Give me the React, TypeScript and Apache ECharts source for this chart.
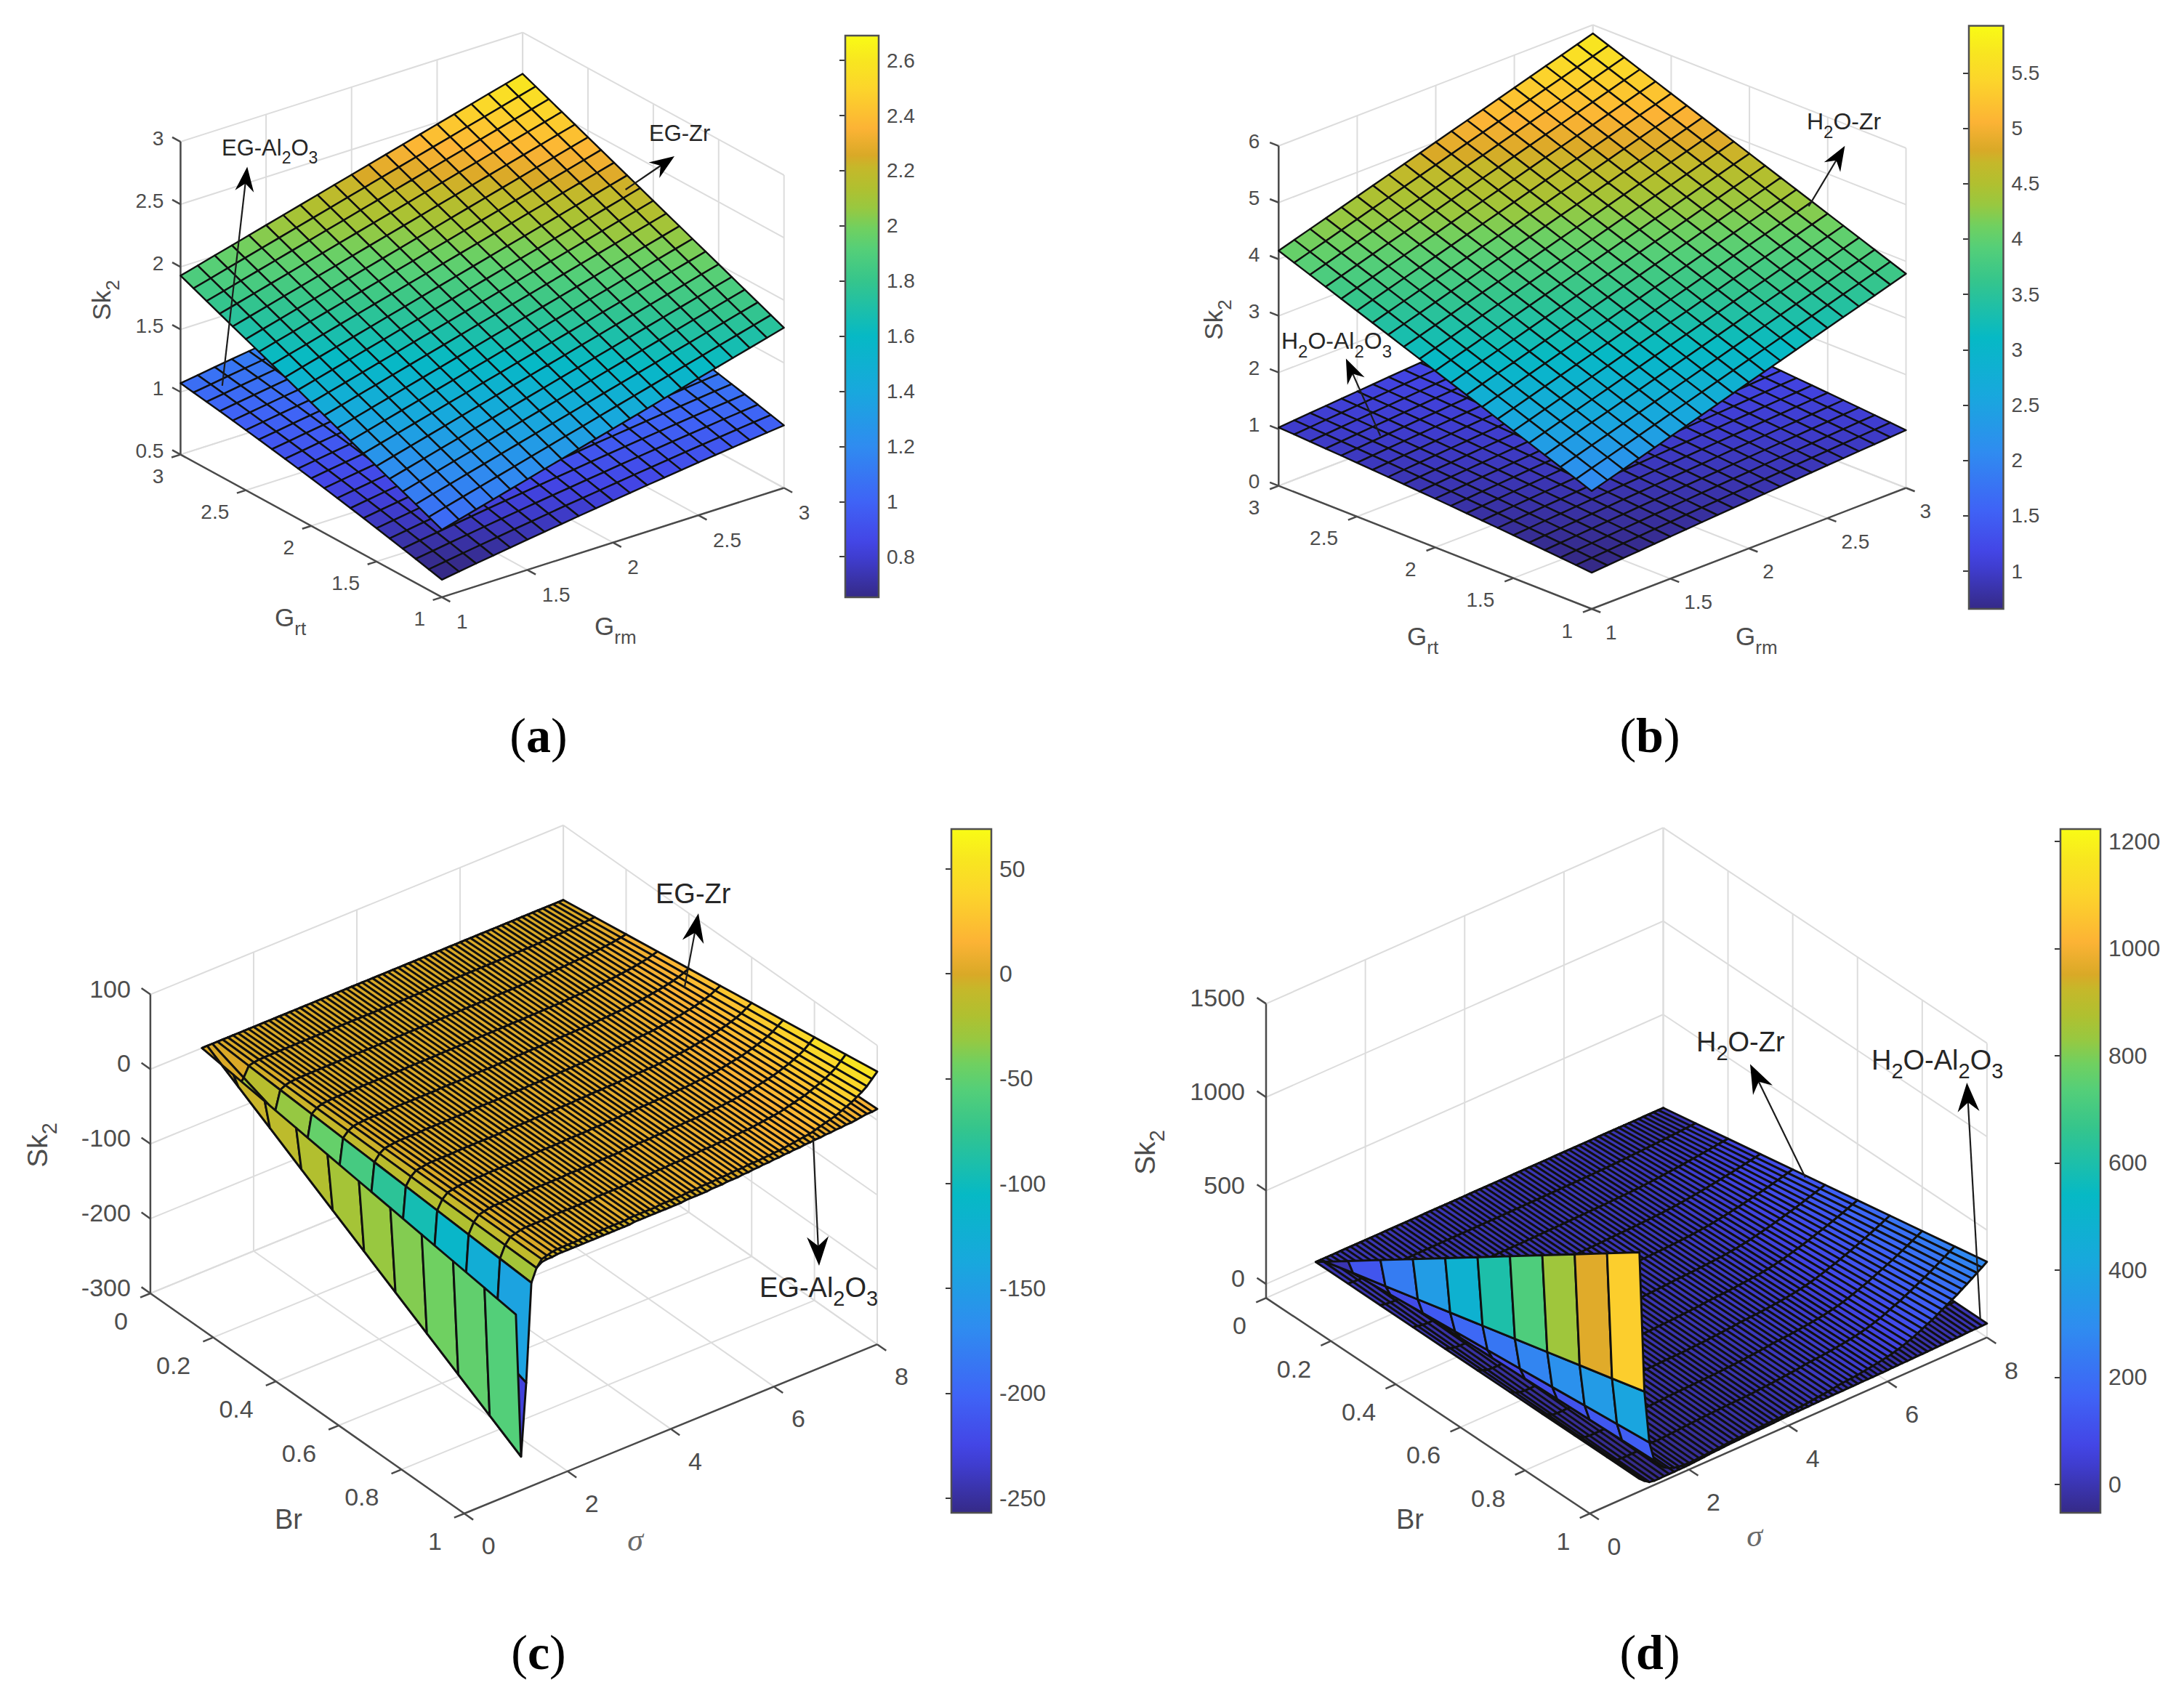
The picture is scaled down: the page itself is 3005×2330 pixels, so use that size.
import React, { useEffect, useRef } from "react";
import * as echarts from "echarts";

// ---------- values ----------
const gridAxis = [1,1.1,1.2,1.3,1.4,1.5,1.6,1.7,1.8,1.9,2,2.1,2.2,2.3,2.4,2.5,2.6,2.7,2.8,2.9,3];
const aTopAlongGrm = [1.04,1.077,1.114,1.151,1.188,1.225,1.262,1.299,1.336,1.373,1.41,1.447,1.484,1.521,1.558,1.595,1.632,1.669,1.706,1.743,1.78];
const aTopRiseGrt = [0,.0445,.089,.1335,.178,.2225,.267,.3115,.356,.4005,.445,.4895,.534,.5785,.623,.6675,.712,.7565,.801,.8455,.89];
const aLowAlongGrm = [.64,.661,.682,.702,.722,.742,.761,.78,.799,.817,.835,.853,.871,.888,.905,.922,.938,.954,.97,.985,1.0];
const aLowRiseGrt = [0,.026,.052,.077,.102,.126,.15,.173,.196,.218,.24,.261,.282,.302,.322,.341,.36,.378,.396,.413,.43];
const bTopAlongGrm = [2.08,2.165,2.25,2.335,2.42,2.505,2.59,2.675,2.76,2.845,2.93,3.015,3.1,3.185,3.27,3.355,3.44,3.525,3.61,3.695,3.78];
const bTopRiseGrt = [0,.1035,.207,.3105,.414,.5175,.621,.7245,.828,.9315,1.035,1.1385,1.242,1.3455,1.449,1.5525,1.656,1.7595,1.863,1.9665,2.07];
const bLowAlongGrm = [.64,.661,.682,.702,.722,.742,.762,.782,.801,.82,.839,.858,.877,.896,.914,.932,.95,.968,.985,1.003,1.02];
const bLowRiseGrt = [0,.024,.048,.071,.094,.116,.138,.159,.18,.2,.22,.239,.258,.276,.294,.311,.328,.344,.36,.375,.39];

const brAxis = [0,.1,.2,.3,.4,.5,.6,.7,.8,.9,1];
const sigmaAxis = [1,1.1,1.2,1.3,1.4,1.5,1.6,1.7,1.8,1.9,
  2,2.1,2.2,2.3,2.4,2.5,2.6,2.7,2.8,2.9,
  3,3.1,3.2,3.3,3.4,3.5,3.6,3.7,3.8,3.9,
  4,4.1,4.2,4.3,4.4,4.5,4.6,4.7,4.8,4.9,
  5,5.1,5.2,5.3,5.4,5.5,5.6,5.7,5.8,5.9,
  6,6.1,6.2,6.3,6.4,6.5,6.6,6.7,6.8,6.9,
  7,7.1,7.2,7.3,7.4,7.5,7.6,7.7,7.8,7.9,8];
const cZrAtBr1 = [-62,-255,-159,-28,-11,-2,0,2,3,3,
  3,3,3,4,4,4,4,4,4,4,
  4,4,5,5,5,5,5,5,6,6,
  6,6,6,7,7,7,8,8,8,9,
  9,9,10,10,10,11,11,11,12,12,
  13,13,14,15,16,17,18,19,21,23,
  25,27,29,32,35,38,42,46,51,58,65];
const cAlAtBr1 = [-8,-40,-30,-14,-11,-6,-5,-5,-4,-4,
  -4,-4,-4,-4,-4,-4,-4,-4,-4,-4,
  -4,-4,-4,-3,-3,-3,-3,-3,-3,-3,
  -3,-3,-3,-2,-2,-2,-2,-2,-1,-1,
  -1,0,0,0,1,1,2,2,3,3,
  4,4,5,5,6,6,7,7,8,8,
  9,9,10,10,11,11,12,13,14,14,15];
const dZrAtBr1 = [1205,448,164,55,20,-5,-20,-30,-36,-38,
  -40,-39,-37,-35,-33,-31,-29,-27,-25,-23,
  -22,-20,-19,-18,-16,-15,-14,-13,-12,-11,
  -8,-6,-4,-2,1,4,7,10,13,17,
  22,24,27,29,32,36,40,44,48,53,
  58,65,72,80,90,100,112,125,138,150,
  165,180,195,210,225,242,259,276,294,312,330];
const dAlAtBr1 = [-7,-30,-48,-53,-53,-52,-52,-52,-51,-51,
  -50,-48,-46,-44,-42,-40,-39,-37,-35,-34,
  -33,-32,-31,-30,-29,-28,-27,-26,-25,-24,
  -23,-22,-22,-21,-21,-20,-20,-19,-19,-18,
  -18,-18,-17,-17,-17,-16,-16,-16,-15,-15,
  -14,-13,-13,-12,-12,-11,-10,-10,-9,-9,
  -8,-7,-6,-6,-5,-4,-3,-2,-2,-1,0];

const grmTicks = [1,1.5,2,2.5,3];
const grtTicks = [1,1.5,2,2.5,3];
const aZTicks = [0.5,1,1.5,2,2.5,3];
const bZTicks = [0,1,2,3,4,5,6];
const sigmaTicks = [0,2,4,6,8];
const brTicks = [0,0.2,0.4,0.6,0.8,1];
const cZTicks = [-300,-200,-100,0,100];
const dZTicks = [0,500,1000,1500];
const aBarTicks = [0.8,1,1.2,1.4,1.6,1.8,2,2.2,2.4,2.6];
const bBarTicks = [1,1.5,2,2.5,3,3.5,4,4.5,5,5.5];
const cBarTicks = [-250,-200,-150,-100,-50,0,50];
const dBarTicks = [0,200,400,600,800,1000,1200];

// ---------- styles and layout ----------
const SANS = "Liberation Sans";
const SERIF = "Liberation Serif";
const GREY = "#4d4d4d";
const STOPS: [number, string][] = [
  [0,"#352a87"],[0.07,"#3f3dcf"],[0.1,"#4346e6"],[0.17,"#3f63f6"],[0.27,"#2f8cf0"],[0.367,"#18a8dd"],
  [0.465,"#06b9c5"],[0.563,"#35c58c"],[0.62,"#55cf78"],[0.657,"#70d060"],[0.693,"#98c840"],[0.728,"#b0c030"],
  [0.765,"#c5b82a"],[0.787,"#d9a927"],[0.835,"#fcb335"],[0.906,"#fcd52b"],[0.955,"#f8e620"],[1,"#f9fb15"],
];
const hex = (s: string) => [1,3,5].map((k) => parseInt(s.slice(k,k+2),16));
function parula(t: number) {
  const v = Math.max(0, Math.min(1, t));
  for (let k = 1; k < STOPS.length; k++) {
    if (v <= STOPS[k][0]) {
      const a = STOPS[k-1], b = STOPS[k], f = (v-a[0])/(b[0]-a[0]);
      const ca = hex(a[1]), cb = hex(b[1]);
      return `rgb(${ca.map((c,m)=>Math.round(c+(cb[m]-c)*f)).join(",")})`;
    }
  }
  return STOPS[STOPS.length-1][1];
}

function subText(parts: string[], F: number, fill = GREY, family = SANS) {
  const LH = Math.round(F*1.3);
  return {
    text: parts.map((p,i)=> (i%2===0 ? `{n|${p}}` : `{s|${p}}`)).join(""),
    rich: {
      n: { fontSize: F, fontFamily: family, fill, verticalAlign: "top", lineHeight: LH },
      s: { fontSize: Math.round(F*0.75), fontFamily: family, fill, verticalAlign: "bottom", lineHeight: LH },
    },
  };
}

type P = any;
const panels: P[] = [
  { left:[248.4,625.6], front:[608,821.9], right:[1078.7,671.5], zPx:430.5,
    x:[1,3], yNear:1, yFar:3, z:[0.5,3], cr:[0.653,2.69], mesh:2.4,
    xTicks:grmTicks, yTicks:grtTicks, zTicks:aZTicks, barTicks:aBarTicks, font:28, barFont:28,
    zOff:[-23,-5], yOff:[-23,30], xOff:[20,34], tick:13,
    bar:{left:1163,top:49,width:46,height:773},
    sk:[145,413], skF:35, xLab:{parts:["G","rm"],at:[818,867]}, yLab:{parts:["G","rt"],at:[378,855]}, labF:35,
    notes:[
      {parts:["EG-Al","2","O","3"],at:[305,208],from:[305.8,530.9],to:[340.2,229.5]},
      {parts:["EG-Zr"],at:[893,188],from:[860.6,261],to:[928,215]},
    ], noteF:31, head:[34,13], cap:["a",741,1012] },
  { left:[1759.3,668.6], front:[2190.1,838], right:[2622.5,671.5], zPx:467.8,
    x:[1,3], yNear:1, yFar:3, z:[0,6], cr:[0.66,5.925], mesh:2.4,
    xTicks:grmTicks, yTicks:grtTicks, zTicks:bZTicks, barTicks:bBarTicks, font:28, barFont:28,
    zOff:[-26,-6], yOff:[-26,30], xOff:[19,32], tick:13,
    bar:{left:2709,top:35.5,width:47.5,height:802.5},
    sk:[1675,440], skF:35, xLab:{parts:["G","rm"],at:[2388,881]}, yLab:{parts:["G","rt"],at:[1936,881]}, labF:35,
    notes:[
      {parts:["H","2","O-Zr"],at:[2486,172],from:[2488.6,284],to:[2538.4,200.8]},
      {parts:["H","2","O-Al","2","O","3"],at:[1763,474],from:[1899.3,599.7],to:[1851.9,493.5]},
    ], noteF:32, head:[34,13], cap:["b",2270,1012] },
  { left:[206.9,1780], front:[638.8,2083], right:[1207,1850.2], zPx:411.4,
    x:[0,8], yNear:1, yFar:0, z:[-300,100], cr:[-257,69], mesh:2.9,
    xTicks:sigmaTicks, yTicks:brTicks, zTicks:cZTicks, barTicks:cBarTicks, font:34, barFont:32,
    zOff:[-27,-8], yOff:[-31,38], xOff:[24,44], tick:15,
    bar:{left:1309,top:1141,width:55,height:941},
    sk:[57,1576], skF:39, xLab:{sigma:true,at:[874,2119]}, yLab:{parts:["Br"],at:[378,2096]}, labF:38,
    notes:[
      {parts:["EG-Zr"],at:[902,1235],from:[941.8,1359],to:[961,1257]},
      {parts:["EG-Al","2","O","3"],at:[1045,1777],from:[1118.6,1563],to:[1127,1742]},
    ], noteF:38, head:[40,15], cap:["c",741,2274] },
  { left:[1742,1786.4], front:[2187.4,2083], right:[2733.9,1840.7], zPx:405,
    x:[0,8], yNear:1, yFar:0, z:[-75,1500], cr:[-53,1223], mesh:2.9,
    xTicks:sigmaTicks, yTicks:brTicks, zTicks:dZTicks, barTicks:dBarTicks, font:34, barFont:32,
    zOff:[-29,-8], yOff:[-27,38], xOff:[24,45], tick:15,
    bar:{left:2835,top:1141,width:55,height:941},
    sk:[1581,1586], skF:39, xLab:{sigma:true,at:[2414,2113]}, yLab:{parts:["Br"],at:[1921,2096]}, labF:38,
    notes:[
      {parts:["H","2","O-Zr"],at:[2334,1439],from:[2484,1620.6],to:[2408,1464.4]},
      {parts:["H","2","O-Al","2","O","3"],at:[2575,1464],from:[2724.7,1815],to:[2706.3,1490]},
    ], noteF:38, head:[40,15], cap:["d",2270,2274] },
];

function project(p: P, x: number, y: number, z: number): [number, number] {
  const tx = (x-p.x[0])/(p.x[1]-p.x[0]);
  const ty = (y-p.yNear)/(p.yFar-p.yNear);
  const tz = (z-p.z[0])/(p.z[1]-p.z[0]);
  return [
    p.front[0]+tx*(p.right[0]-p.front[0])+ty*(p.left[0]-p.front[0]),
    p.front[1]+tx*(p.right[1]-p.front[1])+ty*(p.left[1]-p.front[1])-tz*p.zPx,
  ];
}

// Tables the mesh needs, built from the readings above.
const additive = (along: number[], rise: number[]) => rise.map((r)=>along.map((v)=>v+r));
const scaled = (atBr1: number[]) => brAxis.map((b)=>atBr1.map((v)=>b*v));

const surfaces = [
  { panel:0, xs:gridAxis, ys:gridAxis, table:additive(aLowAlongGrm,aLowRiseGrt) },
  { panel:0, xs:gridAxis, ys:gridAxis, table:additive(aTopAlongGrm,aTopRiseGrt) },
  { panel:1, xs:gridAxis, ys:gridAxis, table:additive(bLowAlongGrm,bLowRiseGrt) },
  { panel:1, xs:gridAxis, ys:gridAxis, table:additive(bTopAlongGrm,bTopRiseGrt) },
  { panel:2, xs:sigmaAxis, ys:brAxis, table:scaled(cAlAtBr1) },
  { panel:2, xs:sigmaAxis, ys:brAxis, table:scaled(cZrAtBr1) },
  { panel:3, xs:sigmaAxis, ys:brAxis, table:scaled(dAlAtBr1) },
  { panel:3, xs:sigmaAxis, ys:brAxis, table:scaled(dZrAtBr1) },
];

function surfaceSeries(s: any, idx: number) {
  const p = panels[s.panel];
  const data: number[][] = [];
  const jOrder = s.ys.slice(0,-1).map((_: number,j: number)=>j);
  if (p.yFar > p.yNear) jOrder.reverse();
  for (let i = s.xs.length-2; i >= 0; i--) {
    for (const j of jOrder) {
      data.push([s.xs[i],s.xs[i+1],s.ys[j],s.ys[j+1],s.table[j][i],s.table[j][i+1],s.table[j+1][i+1],s.table[j+1][i]]);
    }
  }
  return {
    type:"custom", coordinateSystem:"none", silent:true, z:3+idx, progressive:0, animation:false, data,
    renderItem:(_: any, api: any) => {
      const v = (k: number) => api.value(k);
      const pts = [
        project(p,v(0),v(2),v(4)), project(p,v(1),v(2),v(5)),
        project(p,v(1),v(3),v(6)), project(p,v(0),v(3),v(7)),
      ];
      return { type:"polygon", shape:{points:pts},
        style:{ fill:parula((v(4)-p.cr[0])/(p.cr[1]-p.cr[0])), stroke:"#101010", lineWidth:p.mesh, lineJoin:"round" } };
    },
  };
}

function line(a: number[], b: number[], stroke: string, lineWidth: number) {
  return { type:"line", shape:{x1:a[0],y1:a[1],x2:b[0],y2:b[1]}, style:{stroke,lineWidth} };
}
function label(text: string, x: number, y: number, F: number, align: string) {
  return { type:"text", x, y, style:{text, fontSize:F, fontFamily:SANS, fill:GREY, align, verticalAlign:"middle"} };
}

function boxSeries(p: P) {
  return {
    type:"custom", coordinateSystem:"none", silent:true, z:2, animation:false, data:[[0]],
    renderItem:() => {
      const ch: any[] = [];
      const G = "#dcdcdc", A = "#4a4a4a";
      const [zl,zh] = p.z, [xl,xh] = p.x, yn = p.yNear, yf = p.yFar;
      for (const t of p.xTicks) {
        ch.push(line(project(p,t,yn,zl),project(p,t,yf,zl),G,2));
        ch.push(line(project(p,t,yf,zl),project(p,t,yf,zh),G,2));
      }
      for (const t of p.yTicks) {
        ch.push(line(project(p,xl,t,zl),project(p,xh,t,zl),G,2));
        ch.push(line(project(p,xh,t,zl),project(p,xh,t,zh),G,2));
      }
      for (const t of p.zTicks) {
        ch.push(line(project(p,xl,yf,t),project(p,xh,yf,t),G,2));
        ch.push(line(project(p,xh,yf,t),project(p,xh,yn,t),G,2));
      }
      ch.push(line(project(p,xl,yf,zl),project(p,xl,yf,zh),A,2.5));
      ch.push(line(project(p,xl,yn,zl),project(p,xh,yn,zl),A,2.5));
      ch.push(line(project(p,xl,yf,zl),project(p,xl,yn,zl),A,2.5));
      const unit = (a: number[], b: number[]) => { const d=Math.hypot(b[0]-a[0],b[1]-a[1]); return [(b[0]-a[0])/d,(b[1]-a[1])/d]; };
      const uxBack = unit(p.right,p.front);
      const uyBack = unit(p.left,p.front);
      const uzTick = unit(p.front,p.left);
      for (const t of p.zTicks) {
        const a = project(p,xl,yf,t);
        ch.push(line(a,[a[0]+uzTick[0]*p.tick,a[1]+uzTick[1]*p.tick],A,2.5));
        ch.push(label(String(t),a[0]+p.zOff[0],a[1]+p.zOff[1],p.font,"right"));
      }
      for (const t of p.yTicks) {
        const a = project(p,xl,t,zl);
        ch.push(line(a,[a[0]+uxBack[0]*p.tick,a[1]+uxBack[1]*p.tick],A,2.5));
        ch.push(label(String(t),a[0]+p.yOff[0],a[1]+p.yOff[1],p.font,"right"));
      }
      for (const t of p.xTicks) {
        const a = project(p,t,yn,zl);
        ch.push(line(a,[a[0]+uyBack[0]*p.tick,a[1]+uyBack[1]*p.tick],A,2.5));
        ch.push(label(String(t),a[0]+p.xOff[0],a[1]+p.xOff[1],p.font,"left"));
      }
      ch.push({ type:"text", x:p.sk[0], y:p.sk[1], rotation:Math.PI/2,
        style:{...subText(["Sk","2"],p.skF), align:"center", verticalAlign:"middle"} });
      if (p.xLab.sigma) {
        ch.push({ type:"text", x:p.xLab.at[0], y:p.xLab.at[1],
          style:{text:"σ", fontSize:44, fontStyle:"italic", fontFamily:SERIF, fill:"#6a6a6a", align:"center", verticalAlign:"middle"} });
      } else {
        ch.push({ type:"text", x:p.xLab.at[0], y:p.xLab.at[1],
          style:{...subText(p.xLab.parts,p.labF), align:"left", verticalAlign:"middle"} });
      }
      ch.push({ type:"text", x:p.yLab.at[0], y:p.yLab.at[1],
        style:{...subText(p.yLab.parts,p.labF), align:"left", verticalAlign:"middle"} });
      return { type:"group", children:ch };
    },
  };
}

function noteSeries(p: P) {
  return {
    type:"custom", coordinateSystem:"none", silent:true, z:30, animation:false, data:[[0]],
    renderItem:() => {
      const ch: any[] = [];
      const INK = "#1c1c1c";
      for (const n of p.notes) {
        const d = Math.hypot(n.to[0]-n.from[0],n.to[1]-n.from[1]);
        const u = [(n.to[0]-n.from[0])/d,(n.to[1]-n.from[1])/d];
        const m = [-u[1],u[0]];
        const [L,W] = p.head;
        const t = n.to;
        ch.push(line(n.from,[t[0]-u[0]*L*0.6,t[1]-u[1]*L*0.6],INK,2.2));
        ch.push({ type:"polygon", shape:{points:[
          t,
          [t[0]-u[0]*L+m[0]*W,t[1]-u[1]*L+m[1]*W],
          [t[0]-u[0]*L*0.68,t[1]-u[1]*L*0.68],
          [t[0]-u[0]*L-m[0]*W,t[1]-u[1]*L-m[1]*W],
        ]}, style:{fill:"#000"} });
        ch.push({ type:"text", x:n.at[0], y:n.at[1], style:{...subText(n.parts,p.noteF,"#262626"), align:"left", verticalAlign:"middle"} });
      }
      ch.push({ type:"text", x:p.cap[1], y:p.cap[2], style:{
        text:`{r|(}{b|${p.cap[0]}}{r|)}`, align:"center", verticalAlign:"middle",
        rich:{ r:{fontSize:68,fontFamily:SERIF,fill:"#000"}, b:{fontSize:68,fontFamily:SERIF,fontWeight:"bold",fill:"#000"} },
      } });
      return { type:"group", children:ch };
    },
  };
}

function buildOption() {
  const grid: any[] = [], xAxis: any[] = [], yAxis: any[] = [], series: any[] = [];
  panels.forEach((p,k) => {
    grid.push({ ...p.bar, show:true, borderColor:"#505050", borderWidth:2.5, backgroundColor:"transparent", containLabel:false, z:20 });
    xAxis.push({ type:"value", gridIndex:k, min:0, max:1, show:false });
    yAxis.push({ type:"value", gridIndex:k, position:"right", min:p.cr[0], max:p.cr[1], scale:true,
      splitLine:{show:false}, axisLine:{show:false},
      axisTick:{show:true, inside:true, length:8, customValues:p.barTicks, lineStyle:{color:"#3a3a3a",width:2}},
      axisLabel:{show:true, margin:11, customValues:p.barTicks, color:GREY, fontSize:p.barFont, fontFamily:SANS, formatter:(v: number)=>String(v)},
    });
    series.push(boxSeries(p));
    series.push({
      type:"custom", coordinateSystem:"cartesian2d", xAxisIndex:k, yAxisIndex:k, silent:true, z:19, animation:false,
      data:[[0,p.cr[0],p.cr[1]]],
      renderItem:(_: any, api: any) => {
        const a = api.coord([0,api.value(1)]), b = api.coord([1,api.value(2)]);
        return { type:"rect", shape:{x:a[0],y:b[1],width:b[0]-a[0],height:a[1]-b[1]},
          style:{ fill:new echarts.graphic.LinearGradient(0,1,0,0,STOPS.map(([offset,color])=>({offset,color}))) } };
      },
    });
    series.push(noteSeries(p));
  });
  surfaces.forEach((s,i)=>series.push(surfaceSeries(s,i)));
  return { animation:false, backgroundColor:"#ffffff", grid, xAxis, yAxis, series };
}

export default function App() {
  const ref = useRef<HTMLDivElement>(null);
  useEffect(() => {
    const chart = echarts.init(ref.current!, undefined, { renderer:"svg" });
    chart.setOption(buildOption() as any);
    return () => chart.dispose();
  }, []);
  return <div ref={ref} style={{ position:"absolute", left:0, top:0, width:3005, height:2330 }} />;
}
